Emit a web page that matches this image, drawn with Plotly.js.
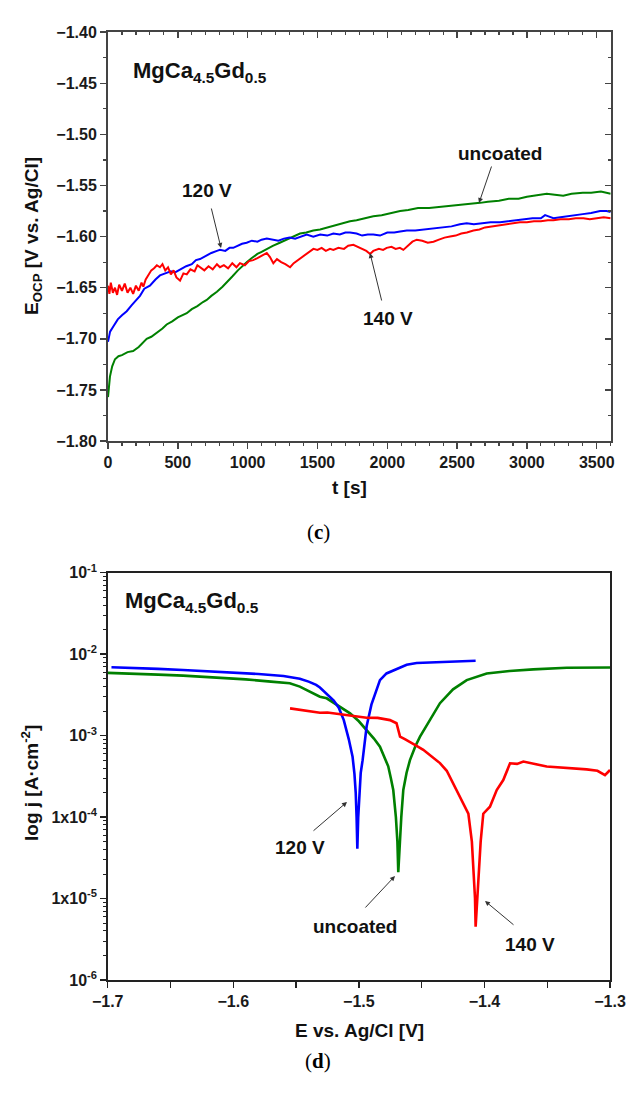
<!DOCTYPE html>
<html>
<head>
<meta charset="utf-8">
<script src="https://cdn.plot.ly/plotly-3.0.1.min.js"></script>
<style>html,body{margin:0;padding:0;background:#fff;}#chart{width:634px;height:1104px;}</style>
</head>
<body>
<div id="chart"></div>
<script>
// ---------- (c) open-circuit potential vs time ----------
const ocpTime120 = [0,15,38,70,100,134,170,200,229,260,300,340,372,410,450,480,516,560,600,630,659,700,740,780,802,840,870,897,930,960,993,1030,1070,1100,1137,1180,1220,1260,1300,1340,1375,1423,1470,1520,1570,1614,1660,1700,1733,1780,1820,1860,1900,1948,2000,2050,2092,2140,2200,2260,2331,2400,2460,2520,2569,2620,2680,2740,2808,2860,2920,2980,3040,3100,3130,3150,3190,3240,3286,3340,3400,3460,3524,3570,3600];
const ocpE120 = [-1.703,-1.693,-1.688,-1.681,-1.677,-1.673,-1.667,-1.662,-1.658,-1.651,-1.648,-1.642,-1.638,-1.636,-1.634,-1.635,-1.632,-1.629,-1.627,-1.623,-1.622,-1.619,-1.616,-1.614,-1.613,-1.614,-1.611,-1.611,-1.609,-1.607,-1.606,-1.604,-1.605,-1.603,-1.602,-1.603,-1.604,-1.602,-1.601,-1.602,-1.600,-1.598,-1.600,-1.598,-1.599,-1.597,-1.598,-1.596,-1.596,-1.597,-1.599,-1.598,-1.598,-1.599,-1.596,-1.596,-1.595,-1.594,-1.594,-1.593,-1.592,-1.591,-1.590,-1.588,-1.587,-1.588,-1.587,-1.586,-1.586,-1.585,-1.584,-1.583,-1.582,-1.582,-1.579,-1.580,-1.582,-1.581,-1.580,-1.579,-1.578,-1.577,-1.575,-1.575,-1.576];

const ocpTime140 = [0,10,20,35,50,65,80,100,120,140,160,180,200,220,240,253,270,290,310,330,350,372,390,410,430,450,470,490,516,540,564,590,620,640,659,690,720,750,780,802,830,860,890,920,945,980,1010,1040,1070,1100,1137,1160,1184,1210,1240,1270,1304,1330,1360,1390,1420,1447,1471,1500,1530,1560,1590,1614,1650,1690,1720,1757,1790,1820,1850,1877,1900,1940,1970,1996,2030,2060,2090,2115,2150,2180,2211,2250,2290,2331,2370,2410,2450,2490,2530,2570,2617,2660,2700,2750,2808,2850,2900,2950,3000,3050,3100,3150,3190,3240,3300,3350,3405,3450,3500,3550,3600];
const ocpE140 = [-1.648,-1.656,-1.645,-1.655,-1.650,-1.657,-1.647,-1.653,-1.646,-1.655,-1.650,-1.656,-1.648,-1.653,-1.645,-1.649,-1.642,-1.638,-1.633,-1.631,-1.628,-1.630,-1.627,-1.633,-1.630,-1.637,-1.633,-1.640,-1.643,-1.636,-1.637,-1.632,-1.634,-1.628,-1.630,-1.633,-1.629,-1.632,-1.627,-1.630,-1.628,-1.631,-1.626,-1.630,-1.626,-1.628,-1.624,-1.623,-1.621,-1.619,-1.616,-1.620,-1.626,-1.622,-1.625,-1.627,-1.630,-1.626,-1.623,-1.620,-1.617,-1.615,-1.612,-1.613,-1.611,-1.614,-1.612,-1.613,-1.611,-1.612,-1.609,-1.608,-1.610,-1.612,-1.614,-1.617,-1.614,-1.612,-1.613,-1.611,-1.610,-1.612,-1.611,-1.613,-1.609,-1.605,-1.603,-1.604,-1.606,-1.605,-1.603,-1.601,-1.600,-1.599,-1.597,-1.596,-1.594,-1.593,-1.591,-1.590,-1.589,-1.588,-1.587,-1.586,-1.586,-1.585,-1.585,-1.584,-1.584,-1.583,-1.583,-1.582,-1.582,-1.583,-1.582,-1.581,-1.582];

const ocpTimeUnc = [0,7,14,30,50,75,100,140,180,220,250,277,310,350,390,420,460,500,530,564,600,640,680,707,740,780,820,850,890,930,960,993,1030,1070,1100,1137,1180,1230,1280,1330,1375,1420,1470,1519,1570,1620,1680,1733,1780,1840,1900,1960,2020,2092,2150,2220,2300,2380,2450,2520,2600,2665,2720,2800,2870,2940,3000,3060,3142,3200,3260,3320,3400,3460,3530,3600];
const ocpEUnc = [-1.757,-1.745,-1.737,-1.727,-1.720,-1.717,-1.716,-1.713,-1.712,-1.708,-1.704,-1.700,-1.698,-1.694,-1.690,-1.686,-1.683,-1.679,-1.677,-1.675,-1.671,-1.668,-1.664,-1.662,-1.658,-1.654,-1.649,-1.645,-1.639,-1.633,-1.629,-1.625,-1.621,-1.617,-1.615,-1.612,-1.609,-1.606,-1.603,-1.600,-1.597,-1.596,-1.594,-1.593,-1.591,-1.589,-1.587,-1.585,-1.584,-1.582,-1.580,-1.579,-1.577,-1.575,-1.574,-1.572,-1.572,-1.571,-1.570,-1.569,-1.568,-1.567,-1.566,-1.565,-1.563,-1.563,-1.561,-1.560,-1.558,-1.559,-1.560,-1.558,-1.557,-1.557,-1.556,-1.558];

// ---------- (d) polarisation curves ----------
const polE120 = [-1.697,-1.68,-1.66,-1.64,-1.62,-1.60,-1.58,-1.56,-1.547,-1.54,-1.534,-1.531,-1.525,-1.520,-1.516,-1.512,-1.508,-1.505,-1.5035,-1.5025,-1.5018,-1.5012,-1.5005,-1.4995,-1.4985,-1.497,-1.4955,-1.4938,-1.490,-1.486,-1.4832,-1.478,-1.470,-1.4619,-1.454,-1.446,-1.430,-1.415,-1.407];
const polJ120 = [6.9e-3,6.8e-3,6.6e-3,6.4e-3,6.2e-3,6.0e-3,5.7e-3,5.4e-3,5.0e-3,4.6e-3,4.2e-3,3.9e-3,3.2e-3,2.7e-3,2.2e-3,1.55e-3,9.0e-4,5.5e-4,3.4e-4,2.0e-4,1.0e-4,4.1e-5,1.0e-4,2.3e-4,3.5e-4,5.0e-4,8.0e-4,1.3e-3,2.4e-3,3.6e-3,4.8e-3,5.8e-3,6.6e-3,7.4e-3,7.8e-3,7.9e-3,8.1e-3,8.3e-3,8.3e-3];

const polEUnc = [-1.70,-1.68,-1.66,-1.64,-1.6265,-1.61,-1.59,-1.57,-1.555,-1.547,-1.531,-1.5256,-1.516,-1.507,-1.500,-1.4938,-1.488,-1.4832,-1.4795,-1.4766,-1.4745,-1.4726,-1.4705,-1.4693,-1.4686,-1.4676,-1.4662,-1.4646,-1.462,-1.4593,-1.455,-1.4513,-1.443,-1.4354,-1.425,-1.4141,-1.3982,-1.380,-1.3611,-1.3345,-1.30];
const polJUnc = [5.9e-3,5.8e-3,5.6e-3,5.45e-3,5.3e-3,5.1e-3,4.9e-3,4.6e-3,4.4e-3,4.0e-3,3.0e-3,2.87e-3,2.3e-3,1.88e-3,1.5e-3,1.17e-3,9.2e-4,7.3e-4,5.5e-4,4.2e-4,3.0e-4,2.15e-4,1.0e-4,5.0e-5,2.1e-5,5.0e-5,1.0e-4,2.15e-4,3.5e-4,5.0e-4,7.4e-4,9.7e-4,1.6e-3,2.5e-3,3.7e-3,4.8e-3,5.8e-3,6.2e-3,6.5e-3,6.8e-3,6.85e-3];

const polE140 = [-1.5548,-1.547,-1.540,-1.531,-1.525,-1.5203,-1.512,-1.505,-1.4938,-1.485,-1.4752,-1.470,-1.4685,-1.4672,-1.463,-1.4593,-1.454,-1.4487,-1.442,-1.4354,-1.430,-1.4274,-1.4221,-1.4168,-1.4128,-1.410,-1.4089,-1.4075,-1.407,-1.406,-1.4049,-1.403,-1.4009,-1.3956,-1.3902,-1.3876,-1.385,-1.3796,-1.374,-1.369,-1.3637,-1.357,-1.3504,-1.342,-1.3345,-1.326,-1.3186,-1.310,-1.304,-1.300];
const polJ140 = [2.16e-3,2.06e-3,2.0e-3,1.91e-3,1.92e-3,1.88e-3,1.8e-3,1.75e-3,1.66e-3,1.65e-3,1.55e-3,1.42e-3,1.2e-3,9.7e-4,9.0e-4,8.4e-4,7.5e-4,6.7e-4,5.5e-4,4.6e-4,3.7e-4,3.1e-4,2.15e-4,1.48e-4,1.1e-4,5.0e-5,2.5e-5,1.0e-5,4.5e-6,9.0e-6,1.7e-5,5.0e-5,1.1e-4,1.34e-4,2.15e-4,2.5e-4,2.85e-4,4.57e-4,4.5e-4,4.8e-4,4.66e-4,4.4e-4,4.17e-4,4.1e-4,3.98e-4,3.95e-4,3.85e-4,3.7e-4,3.28e-4,3.78e-4];

// tick labels
const logTickVals = [1e-6,1e-5,1e-4,1e-3,1e-2,1e-1];
const logTickText = ['10<sup>-6</sup>','1x10<sup>-5</sup>','1x10<sup>-4</sup>','10<sup>-3</sup>','10<sup>-2</sup>','10<sup>-1</sup>'];
const seriesNames = ['120 V','140 V','uncoated'];
const colors = {'120 V':'#0000ff','140 V':'#ff0000','uncoated':'#008000'};

// ---------- helpers ----------
const W = 634, H = 1104;
const px = x => x / W, py = y => 1 - y / H;
const FONT = 'Liberation Sans, Arial, sans-serif';
const tickFont = {family: FONT, size: 16, color: '#1a1a1a', weight: 'bold'};

const minorLog = [];
for (let e = -6; e < -1; e++) for (let m = 2; m <= 9; m++) minorLog.push(m * Math.pow(10, e));

const traces = [
  {x: ocpTimeUnc, y: ocpEUnc, name: seriesNames[2], xaxis: 'x', yaxis: 'y', mode: 'lines', line: {color: colors['uncoated'], width: 2}},
  {x: ocpTime120, y: ocpE120, name: seriesNames[0], xaxis: 'x', yaxis: 'y', mode: 'lines', line: {color: colors['120 V'], width: 2}},
  {x: ocpTime140, y: ocpE140, name: seriesNames[1], xaxis: 'x', yaxis: 'y', mode: 'lines', line: {color: colors['140 V'], width: 2}},
  {x: [], y: [], xaxis: 'x3', yaxis: 'y', mode: 'lines', hoverinfo: 'skip'},
  {x: [], y: [], xaxis: 'x', yaxis: 'y3', mode: 'lines', hoverinfo: 'skip'},
  {x: polEUnc, y: polJUnc, name: seriesNames[2], xaxis: 'x2', yaxis: 'y2', mode: 'lines', line: {color: colors['uncoated'], width: 2.6}},
  {x: polE120, y: polJ120, name: seriesNames[0], xaxis: 'x2', yaxis: 'y2', mode: 'lines', line: {color: colors['120 V'], width: 2.6}},
  {x: polE140, y: polJ140, name: seriesNames[1], xaxis: 'x2', yaxis: 'y2', mode: 'lines', line: {color: colors['140 V'], width: 2.6}}
];

const topXDom = [px(108), px(610.7)], topYDom = [py(441), py(32.2)];
const botXDom = [px(107.7), px(610)], botYDom = [py(980), py(572.7)];

function ann(text, x, y, size, extra) {
  return Object.assign({text: text, x: px(x), y: py(y), xref: 'paper', yref: 'paper', showarrow: false,
    font: {family: FONT, size: size, color: '#111', weight: 'bold'}, xanchor: 'center', yanchor: 'middle'}, extra || {});
}
function arrow(hx, hy, tx, ty) {
  return {text: '', x: px(hx), y: py(hy), xref: 'paper', yref: 'paper', showarrow: true,
    ax: tx - hx, ay: ty - hy, arrowhead: 2, arrowsize: 1, arrowwidth: 1, arrowcolor: '#333'};
}

const layout = {
  width: W, height: H, showlegend: false,
  margin: {l: 0, r: 0, t: 0, b: 0},
  paper_bgcolor: '#fff', plot_bgcolor: '#fff',
  xaxis: {domain: topXDom, anchor: 'y', range: [0, 3600], tick0: 0, dtick: 500, ticks: 'outside', ticklen: 6, tickwidth: 1.5,
    tickcolor: '#444', showline: true, linecolor: '#444', linewidth: 2, showgrid: false, zeroline: false, tickfont: tickFont,
    minor: {dtick: 100, tick0: 0, ticks: 'outside', ticklen: 3, tickwidth: 1.2, tickcolor: '#444'}},
  yaxis: {domain: topYDom, anchor: 'x', range: [-1.80, -1.40], tick0: -1.8, dtick: 0.05, tickformat: '.2f', ticks: 'outside', ticklen: 6, tickwidth: 1.5,
    tickcolor: '#444', showline: true, linecolor: '#444', linewidth: 2, showgrid: false, zeroline: false, tickfont: tickFont,
    minor: {dtick: 0.025, tick0: -1.8, ticks: 'outside', ticklen: 3, tickwidth: 1.2, tickcolor: '#444'}},
  xaxis3: {overlaying: 'x', side: 'top', anchor: 'y', range: [0, 3600], tick0: 0, dtick: 500, ticks: 'inside', ticklen: 6, tickwidth: 1.5,
    tickcolor: '#444', showline: true, linecolor: '#444', linewidth: 2, showticklabels: false, showgrid: false, zeroline: false,
    minor: {dtick: 100, tick0: 0, ticks: 'inside', ticklen: 3, tickwidth: 1.2, tickcolor: '#444'}},
  yaxis3: {overlaying: 'y', side: 'right', anchor: 'x', range: [-1.80, -1.40], tick0: -1.8, dtick: 0.05, ticks: 'inside', ticklen: 6, tickwidth: 1.5,
    tickcolor: '#444', showline: true, linecolor: '#444', linewidth: 2, showticklabels: false, showgrid: false, zeroline: false,
    minor: {dtick: 0.025, tick0: -1.8, ticks: 'inside', ticklen: 3, tickwidth: 1.2, tickcolor: '#444'}},
  xaxis2: {domain: botXDom, anchor: 'y2', range: [-1.7, -1.3], tick0: -1.7, dtick: 0.1, tickformat: '.1f', ticks: 'outside', ticklen: 6, tickwidth: 1.5,
    tickcolor: '#222', showline: true, mirror: true, linecolor: '#222', linewidth: 1.5, showgrid: false, zeroline: false, tickfont: tickFont,
    minor: {dtick: 0.05, tick0: -1.7, ticks: 'outside', ticklen: 6, tickwidth: 1.2, tickcolor: '#222'}},
  yaxis2: {domain: botYDom, anchor: 'x2', type: 'log', range: [-6, -1], tickmode: 'array', tickvals: logTickVals, ticktext: logTickText,
    ticks: 'outside', ticklen: 6, tickwidth: 1.5, tickcolor: '#222', showline: true, mirror: true, linecolor: '#222', linewidth: 1.5,
    showgrid: false, zeroline: false, tickfont: tickFont,
    minor: {tickmode: 'array', tickvals: minorLog, ticks: 'outside', ticklen: 3, tickwidth: 1, tickcolor: '#222'}},
  annotations: [
    ann('MgCa<sub>4.5</sub>Gd<sub>0.5</sub>', 131, 72, 22, {xanchor: 'left'}),
    ann('120 V', 207, 190, 19), arrow(221, 248, 211, 207),
    ann('uncoated', 500, 153, 19), arrow(479, 203, 492, 165),
    ann('140 V', 388, 318, 19), arrow(370, 253, 382, 302),
    ann('E<sub>OCP</sub> [V vs. Ag/Cl]', 33, 236, 19, {textangle: -90}),
    ann('t [s]', 349, 488, 19),
    {text: '(<b>c</b>)', x: px(318), y: py(532), xref: 'paper', yref: 'paper', showarrow: false,
      font: {family: 'Liberation Serif, Times New Roman, serif', size: 21, color: '#000'}},

    ann('MgCa<sub>4.5</sub>Gd<sub>0.5</sub>', 123, 602, 22, {xanchor: 'left'}),
    ann('120 V', 300, 847, 19), arrow(347, 802, 312, 832),
    ann('uncoated', 355, 926, 19), arrow(395, 876, 364, 909),
    ann('140 V', 530, 944, 19), arrow(485, 901, 515, 926),
    ann('log j [A·cm<sup>-2</sup>]', 30, 783, 19, {textangle: -90}),
    ann('E vs. Ag/Cl [V]', 359, 1030, 19),
    {text: '(<b>d</b>)', x: px(318), y: py(1075), xref: 'paper', yref: 'paper', showarrow: false,
      font: {family: 'Liberation Serif, Times New Roman, serif', size: 21, color: '#000'}}
  ]
};

Plotly.newPlot('chart', traces, layout, {displayModeBar: false, staticPlot: true});
</script>
</body>
</html>
